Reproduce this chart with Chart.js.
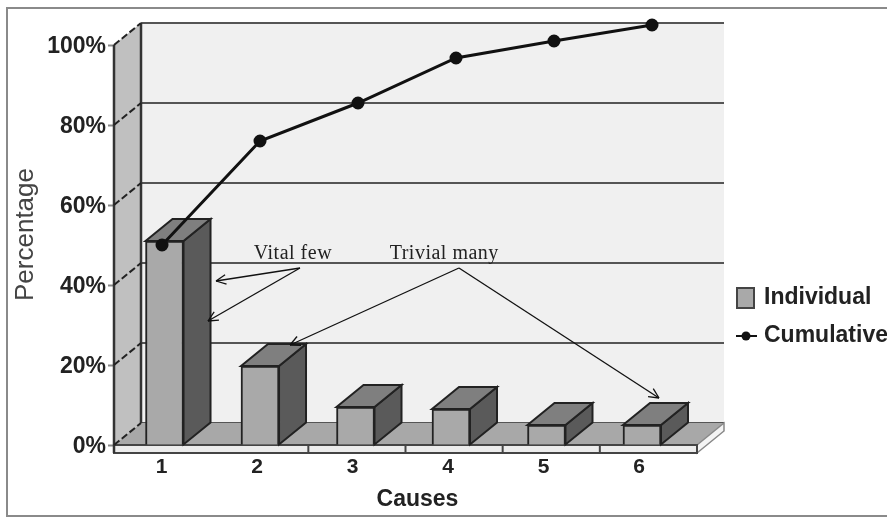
<!DOCTYPE html>
<html>
<head>
<meta charset="utf-8">
<title>Pareto chart</title>
<script src="https://cdn.jsdelivr.net/npm/chart.js@4/dist/chart.umd.min.js"></script>
<style>
    html, body { margin: 0; padding: 0; background: #fff; }
    canvas { display: block; }
</style>
</head>
<body>
<canvas id="Chart1" width="887" height="518"></canvas>
<script>
var categories = [1, 2, 3, 4, 5, 6];
var individual = [51, 19.75, 9.5, 9, 5, 5];
var cumulative = [50, 76, 85.5, 96.75, 101, 105];
var percentTicks = [0, 20, 40, 60, 80, 100];

// notes sit in data units of the line's x scale and the y scale
var noteLabels = ['Vital few', 'Trivial many'];
var noteLabelX = [2.336, 3.88];
var noteLabelY = [46.5, 46.5];
var noteFromX = [2.408, 4.03];
var noteFromY = [44.25, 44.25];
var noteToX = [[1.551, 1.469], [2.306, 6.071]];
var noteToY = [[41, 31], [25, 11.75]];

// depth of the fake 3D box
var depthX = 27;
var depthY = 22;

function poly(ctx, pts, fill, stroke, lw) {
    ctx.beginPath();
    ctx.moveTo(pts[0][0], pts[0][1]);
    for (var i = 1; i < pts.length; i++) { ctx.lineTo(pts[i][0], pts[i][1]); }
    ctx.closePath();
    if (fill) { ctx.fillStyle = fill; ctx.fill(); }
    if (stroke) { ctx.strokeStyle = stroke; ctx.lineWidth = lw; ctx.stroke(); }
}

function seg(ctx, x1, y1, x2, y2, color, lw) {
    ctx.beginPath();
    ctx.moveTo(x1, y1);
    ctx.lineTo(x2, y2);
    ctx.strokeStyle = color;
    ctx.lineWidth = lw;
    ctx.stroke();
}

function arrow(ctx, x1, y1, x2, y2) {
    seg(ctx, x1, y1, x2, y2, '#111', 1.3);
    var a = Math.atan2(y2 - y1, x2 - x1);
    for (var s = -1; s <= 1; s += 2) {
        seg(ctx, x2, y2, x2 - 11 * Math.cos(a + s * 0.45), y2 - 11 * Math.sin(a + s * 0.45), '#111', 1.3);
    }
}

var box3d = {
    id: 'box3d',
    beforeDatasetsDraw: function (chart) {
        var ctx = chart.ctx, y = chart.scales.y, area = chart.chartArea;
        var l = area.left, r = area.right, b = y.getPixelForValue(0), t = y.getPixelForValue(percentTicks[5]);
        ctx.save();
        // page frame
        ctx.strokeStyle = '#8a8a8a';
        ctx.lineWidth = 2;
        ctx.strokeRect(7, 8, 900, 508);
        // back wall and grid
        ctx.fillStyle = '#f0f0f0';
        ctx.fillRect(l + depthX, t - depthY, r - l, b - t);
        percentTicks.forEach(function (v) {
            var py = y.getPixelForValue(v) - depthY;
            seg(ctx, l + depthX, py, r + depthX, py, '#555', 2);
        });
        // left wall
        poly(ctx, [[l, t], [l + depthX, t - depthY], [l + depthX, b - depthY], [l, b]], '#c0c0c0');
        // floor
        poly(ctx, [[l, b], [l + depthX, b - depthY], [r + depthX, b - depthY], [r, b]], '#a8a8a8');
        // plinth under the floor
        poly(ctx, [[r, b], [r + depthX, b - depthY], [r + depthX, b - depthY + 8], [r, b + 8]], '#f4f4f4', '#888', 1.5);
        poly(ctx, [[l, b], [r, b], [r, b + 8], [l, b + 8]], '#ececec', '#444', 2);
        for (var i = 2; i < categories.length; i++) {
            var sx = l + i * (r - l) / categories.length;
            seg(ctx, sx, b, sx, b + 8, '#444', 2);
        }
        // wall edges
        seg(ctx, l, t, l, b + 8, '#333', 2.5);
        seg(ctx, l + depthX, t - depthY, l + depthX, b - depthY, '#333', 2.5);
        ctx.setLineDash([7, 3]);
        percentTicks.forEach(function (v) {
            var py = y.getPixelForValue(v);
            seg(ctx, l, py, l + depthX, py - depthY, '#222', 2);
        });
        ctx.restore();
    },
    beforeDatasetDraw: function (chart, args) {
        if (args.meta.type !== 'bar') { return; }
        var ctx = chart.ctx;
        ctx.save();
        args.meta.data.forEach(function (bar) {
            var l = bar.x - bar.width / 2, r = bar.x + bar.width / 2, t = bar.y, b = bar.base;
            poly(ctx, [[r, t], [r + depthX, t - depthY], [r + depthX, b - depthY], [r, b]], '#5a5a5a', '#222', 2);
            poly(ctx, [[l, t], [l + depthX, t - depthY], [r + depthX, t - depthY], [r, t]], '#7f7f7f', '#222', 2);
        });
        ctx.restore();
    },
    afterDatasetsDraw: function (chart) {
        var ctx = chart.ctx, x = chart.scales.xLine, y = chart.scales.y, area = chart.chartArea;
        ctx.save();
        // notes with arrows
        ctx.font = '20px "Liberation Serif"';
        ctx.letterSpacing = '0.5px';
        ctx.fillStyle = '#222';
        ctx.textAlign = 'center';
        ctx.textBaseline = 'alphabetic';
        noteLabels.forEach(function (txt, i) {
            ctx.fillText(txt, x.getPixelForValue(noteLabelX[i]), y.getPixelForValue(noteLabelY[i]));
            noteToX[i].forEach(function (tx, j) {
                arrow(ctx, x.getPixelForValue(noteFromX[i]), y.getPixelForValue(noteFromY[i]),
                    x.getPixelForValue(tx), y.getPixelForValue(noteToY[i][j]));
            });
        });
        ctx.letterSpacing = '0px';
        // x axis title, sits right of the plot centre in the original
        ctx.font = 'bold 23px "Liberation Sans"';
        ctx.fillStyle = '#222';
        ctx.textBaseline = 'middle';
        ctx.fillText('Causes', (area.left + area.right) / 2 + 12, 500);
        // legend
        var ds = chart.data.datasets, lx = area.right + 40;
        ctx.textAlign = 'left';
        ctx.fillStyle = ds[0].backgroundColor;
        ctx.fillRect(lx, 288, 17, 20);
        ctx.strokeStyle = '#444';
        ctx.lineWidth = 2;
        ctx.strokeRect(lx, 288, 17, 20);
        ctx.fillStyle = '#222';
        ctx.fillText(ds[0].label, lx + 27, 298);
        seg(ctx, lx - 1, 336, lx + 20, 336, '#111', 2);
        ctx.beginPath();
        ctx.arc(lx + 9, 336, 4.5, 0, Math.PI * 2);
        ctx.fillStyle = '#111';
        ctx.fill();
        ctx.fillStyle = '#222';
        ctx.fillText(ds[1].label, lx + 27, 336);
        ctx.restore();
    }
};

var ctx = document.getElementById('Chart1').getContext('2d');
var Chart1 = new Chart(ctx, {
    type: 'bar',
    data: {
        datasets: [{
            type: 'bar',
            label: 'Individual',
            xAxisID: 'x',
            yAxisID: 'y',
            order: 2,
            data: categories.map(function (c, i) { return { x: c, y: individual[i] }; }),
            backgroundColor: '#a9a9a9',
            borderColor: '#222',
            borderWidth: 2,
            grouped: false,
            barPercentage: 1,
            categoryPercentage: 1,
            maxBarThickness: 38
        }, {
            type: 'line',
            label: 'Cumulative',
            xAxisID: 'xLine',
            yAxisID: 'y',
            order: 1,
            data: categories.map(function (c, i) { return { x: c, y: cumulative[i] }; }),
            borderColor: '#111',
            backgroundColor: '#111',
            borderWidth: 3,
            pointRadius: 5,
            tension: 0,
            clip: false
        }]
    },
    plugins: [box3d],
    options: {
        responsive: false,
        animation: false,
        layout: { padding: { left: 10, top: 24, right: 190, bottom: 0 } },
        plugins: {
            legend: { display: false },
            tooltip: { enabled: false }
        },
        scales: {
            x: {
                type: 'linear',
                position: 'bottom',
                offset: false,
                min: 0.471,
                max: 6.576,
                afterBuildTicks: function (s) { s.ticks = categories.map(function (c) { return { value: c }; }); },
                afterFit: function (s) { s.height = 73; },
                grid: { display: false, drawTicks: false, offset: false },
                border: { display: false },
                ticks: {
                    color: '#222',
                    padding: 10,
                    labelOffset: -3,
                    maxRotation: 0,
                    autoSkip: false,
                    font: { family: 'Liberation Sans', size: 21, weight: 'bold' }
                }
            },
            xLine: {
                type: 'linear',
                display: false,
                offset: false,
                min: 0.51,
                max: 6.459
            },
            y: {
                min: 0,
                max: 105.25,
                afterBuildTicks: function (s) { s.ticks = percentTicks.map(function (v) { return { value: v }; }); },
                afterFit: function (s) { s.width = 104; },
                grid: { drawOnChartArea: false, tickLength: 6, tickColor: '#888', tickWidth: 2 },
                border: { display: false },
                title: {
                    display: true,
                    text: 'Percentage',
                    color: '#444',
                    padding: { top: 0, bottom: 0 },
                    font: { family: 'Liberation Sans', size: 26 }
                },
                ticks: {
                    color: '#222',
                    padding: 2,
                    labelOffset: 2,
                    callback: function (v) { return v + '%'; },
                    font: { family: 'Liberation Sans', size: 23, weight: 'bold' }
                }
            }
        }
    }
});
</script>
</body>
</html>
